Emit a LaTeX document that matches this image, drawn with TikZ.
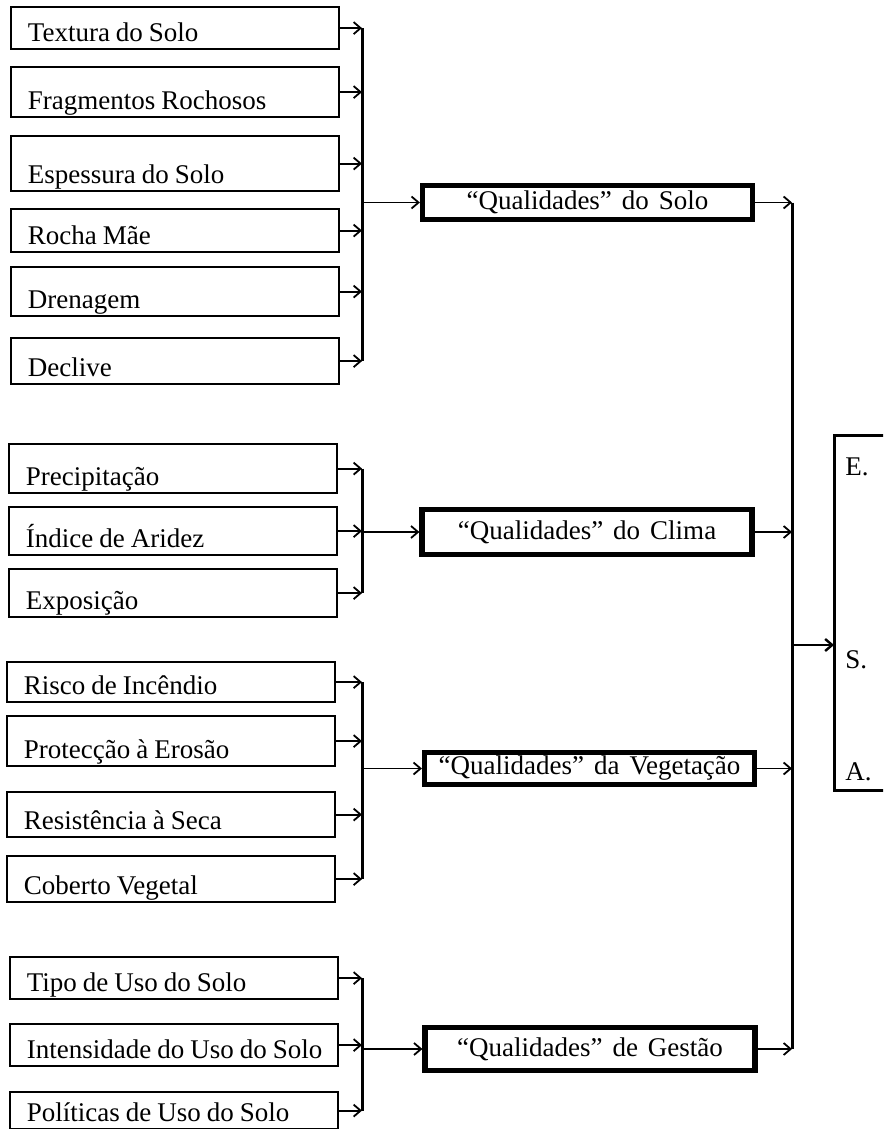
\documentclass[tikz,border=0pt]{standalone}
\usepackage{fontspec}
\setmainfont{Liberation Serif}
\usetikzlibrary{arrows.meta}

\begin{document}
\begin{tikzpicture}[
  x=0.5pt,y=-0.5pt,
  >={Straight Barb[length=3.5pt,width=6pt]},
  every node/.style={font=\fontsize{13.5}{16}\selectfont},
  fator/.style={draw,line width=0.9pt,anchor=south west,inner xsep=2pt,inner ysep=0pt,
    text width=160pt,align=left,text depth=4pt,
    execute at begin node={\spaceskip=3pt plus 1pt\relax\hspace*{6.5pt}}},
  qual/.style={draw,line width=2.6pt,inner sep=0pt,minimum width=165pt,
    execute at begin node={\spaceskip=5pt plus 1pt\relax}},
  seta/.style={->,line width=0.9pt},
  barra/.style={line width=1.5pt}
]
\useasboundingbox (0,0) rectangle (883,1129);
\clip (0,0) rectangle (883,1129);

% --- Nodes ---
% solo
\node[fator,text height=17pt]   (tex) at (10,50)  {Textura do Solo};
\node[fator,text height=21pt]   (fra) at (10,118) {Fragmentos Rochosos};
\node[fator,text height=23.5pt] (esp) at (10,192) {Espessura do Solo};
\node[fator,text height=17.5pt] (roc) at (10,253) {Rocha Mãe};
\node[fator,text height=20.5pt] (dre) at (10,317) {Drenagem};
\node[fator,text height=19pt]   (dec) at (10,385) {Declive};

% clima
\node[fator,text height=20.5pt] (pre) at (8,494) {Precipitação};
\node[fator,text height=20pt]   (ind) at (8,556) {Índice de Aridez};
\node[fator,text height=20pt]   (exp) at (8,618) {Exposição};

% vegetacao
\node[fator,text height=16pt]   (ris) at (6,703) {Risco de Incêndio};
\node[fator,text height=21pt]   (pro) at (6,767) {Protecção à Erosão};
\node[fator,text height=18.5pt] (res) at (6,838) {Resistência à Seca};
\node[fator,text height=19pt]   (cob) at (6,903) {Coberto Vegetal};

% gestao
\node[fator,text height=17pt]   (tip) at (9,1000) {Tipo de Uso do Solo};
\node[fator,text height=17pt]   (int) at (9,1067) {Intensidade do Uso do Solo};
\node[fator,text height=14.5pt] (pol) at (9,1130) {Políticas de Uso do Solo};

% qualidades
\node[qual,minimum height=17pt]   (qs) at (587.5,202.5) {“Qualidades” do Solo};
\node[qual,minimum height=22.5pt] (qc) at (587,532)     {“Qualidades” do Clima};
\node[qual,minimum height=16pt]   (qv) at (589.5,768.5) {“Qualidades” da Vegetação};
\node[qual,minimum height=21.5pt] (qg) at (590,1049)    {“Qualidades” de Gestão};

% E.S.A. (right side cut off by the page edge)
\node[anchor=north west,inner sep=0pt,minimum width=24.5pt,minimum height=177.5pt] (esa) at (834,435) {};
\draw[line width=1.5pt] (esa.north east) -- (esa.north west) -- (esa.south west) -- (esa.south east);
\node[anchor=base west,inner sep=0pt] (le) at (845,475) {E.};
\node[anchor=base west,inner sep=0pt] (ls) at (845,668) {S.};
\node[anchor=base west,inner sep=0pt] (la) at (845,780) {A.};

\coordinate (b1) at (362,0);
\coordinate (b0) at (792,645);

% --- Arrows ---
% solo
\foreach \n in {tex,fra,esp,roc,dre,dec}
  \draw[seta] (\n.east) -- (\n.east -| b1);
\draw[barra] (tex.east -| b1) -- (dec.east -| b1);
\draw[seta] (qs.west -| b1) -- (qs.west);
% clima
\foreach \n in {pre,ind,exp}
  \draw[seta] (\n.east) -- (\n.east -| b1);
\draw[barra] (pre.east -| b1) -- (exp.east -| b1);
\draw[seta] (qc.west -| b1) -- (qc.west);
% vegetacao
\foreach \n in {ris,pro,res,cob}
  \draw[seta] (\n.east) -- (\n.east -| b1);
\draw[barra] (ris.east -| b1) -- (cob.east -| b1);
\draw[seta] (qv.west -| b1) -- (qv.west);
% gestao
\foreach \n in {tip,int,pol}
  \draw[seta] (\n.east) -- (\n.east -| b1);
\draw[barra] (tip.east -| b1) -- (pol.east -| b1);
\draw[seta] (qg.west -| b1) -- (qg.west);

% qualidades -> E.S.A.
\foreach \n in {qs,qc,qv,qg}
  \draw[seta] (\n.east) -- (\n.east -| b0);
\draw[barra] (qs.east -| b0) -- (qg.east -| b0);
\draw[seta,line width=1.2pt] (b0) -- (b0 -| esa.west);

\end{tikzpicture}
\end{document}
